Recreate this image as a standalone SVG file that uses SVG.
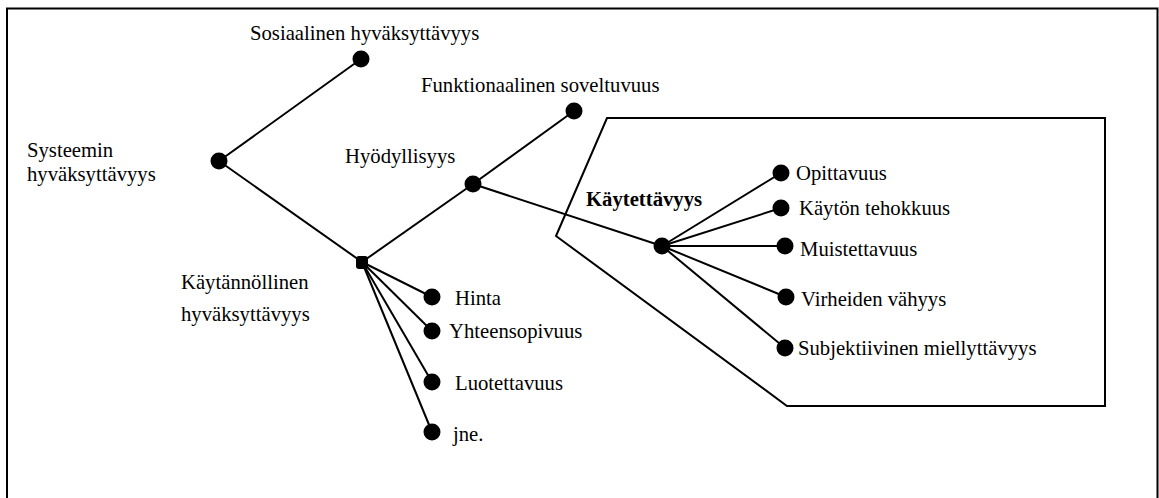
<svg xmlns="http://www.w3.org/2000/svg" width="1159" height="498" viewBox="0 0 1159 498">
<style>
text{font-family:"Liberation Serif","Times New Roman","DejaVu Serif",serif;font-size:20.7px;fill:#000}
.b{font-weight:bold}
.e{stroke:#000;stroke-width:2;fill:none}
.d{fill:#000}
</style>
<rect x="0" y="0" width="1159" height="498" fill="#fff"/>
<rect x="7" y="8.5" width="1150.5" height="500" fill="none" stroke="#000" stroke-width="2"/>
<polygon points="607,118 1105,118 1105,406 787,406 556,236" fill="none" stroke="#000" stroke-width="2"/>
<g id="connectors" class="e">
<line x1="219" y1="161" x2="361" y2="59"/>
<line x1="219" y1="161" x2="362" y2="262"/>
<line x1="362" y1="262" x2="473" y2="184"/>
<line x1="473" y1="184" x2="574" y2="111"/>
<line x1="473" y1="184" x2="662" y2="246"/>
<line x1="362" y1="262" x2="432" y2="297"/>
<line x1="362" y1="262" x2="432" y2="331"/>
<line x1="362" y1="262" x2="432" y2="382"/>
<line x1="362" y1="262" x2="432" y2="432"/>
<line x1="662" y1="246" x2="781" y2="173"/>
<line x1="662" y1="246" x2="781" y2="208"/>
<line x1="662" y1="246" x2="785" y2="246"/>
<line x1="662" y1="246" x2="786" y2="297"/>
<line x1="662" y1="246" x2="785" y2="348"/>
</g>
<g id="n-systeemin"><circle class="d" cx="219" cy="161" r="8.5"/><text x="27" y="157">Systeemin</text><text x="27" y="181">hyväksyttävyys</text></g>
<g id="n-sosiaalinen"><circle class="d" cx="361" cy="59" r="8.5"/><text x="250" y="40">Sosiaalinen hyväksyttävyys</text></g>
<g id="n-kaytannollinen"><rect class="d" x="356" y="256" width="12" height="13" rx="3"/><text x="181" y="289">Käytännöllinen</text><text x="181" y="321">hyväksyttävyys</text></g>
<g id="n-hyodyllisyys"><circle class="d" cx="473" cy="184" r="8.5"/><text x="345" y="163">Hyödyllisyys</text></g>
<g id="n-funktionaalinen"><circle class="d" cx="574" cy="111" r="8.5"/><text x="421" y="92">Funktionaalinen soveltuvuus</text></g>
<g id="n-kaytettavyys"><circle class="d" cx="662" cy="246" r="8.5"/><text class="b" x="586" y="206">Käytettävyys</text></g>
<g id="n-opittavuus"><circle class="d" cx="781" cy="173" r="8.5"/><text x="796" y="180">Opittavuus</text></g>
<g id="n-tehokkuus"><circle class="d" cx="781" cy="208" r="8.5"/><text x="799" y="215">Käytön tehokkuus</text></g>
<g id="n-muistettavuus"><circle class="d" cx="785" cy="246" r="8.5"/><text x="800" y="256">Muistettavuus</text></g>
<g id="n-virheiden"><circle class="d" cx="786" cy="297" r="8.5"/><text x="801" y="306">Virheiden vähyys</text></g>
<g id="n-subjektiivinen"><circle class="d" cx="785" cy="348" r="8.5"/><text x="798" y="355">Subjektiivinen miellyttävyys</text></g>
<g id="n-hinta"><circle class="d" cx="432" cy="297" r="8.5"/><text x="455" y="305">Hinta</text></g>
<g id="n-yhteensopivuus"><circle class="d" cx="432" cy="331" r="8.5"/><text x="449" y="338">Yhteensopivuus</text></g>
<g id="n-luotettavuus"><circle class="d" cx="432" cy="382" r="8.5"/><text x="455" y="390">Luotettavuus</text></g>
<g id="n-jne"><circle class="d" cx="432" cy="432" r="8.5"/><text x="453" y="441">jne.</text></g>
</svg>
